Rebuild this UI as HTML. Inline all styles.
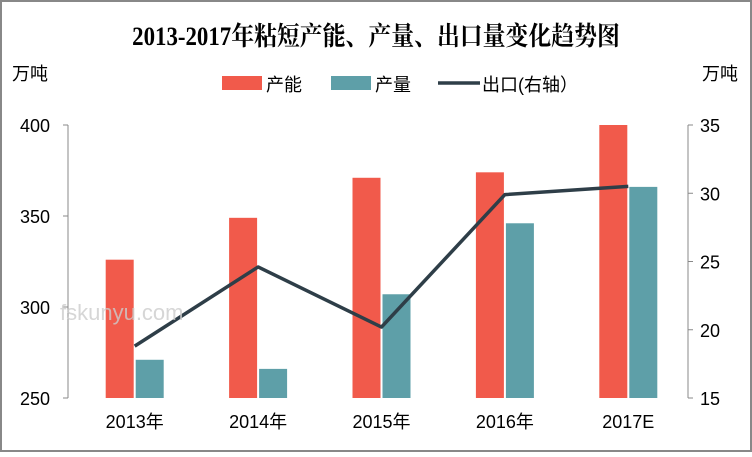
<!DOCTYPE html>
<html><head><meta charset="utf-8"><style>
body{margin:0;background:#fff}
svg text{font-family:"Liberation Sans","Noto Sans CJK SC",sans-serif}
</style></head><body>
<svg id="c" width="752" height="452" xmlns="http://www.w3.org/2000/svg">
<rect x="1" y="1" width="750" height="450" fill="#fff" stroke="#888" stroke-width="2"/>
<text x="376" y="45" text-anchor="middle" font-size="26" font-weight="bold" style="font-family:'Liberation Serif','Noto Serif CJK SC',serif" transform="translate(376,0) scale(0.88,1) translate(-376,0)">2013-2017年粘短产能、产量、出口量变化趋势图</text>
<text x="12" y="80" font-size="18">万吨</text>
<text x="702" y="80" font-size="18">万吨</text>
<g>
<rect x="222" y="76" width="40" height="14" fill="#f15a4b"/>
<text x="266" y="91" font-size="18">产能</text>
<rect x="331" y="76" width="40" height="14" fill="#5e9fa8"/>
<text x="375" y="91" font-size="18">产量</text>
<line x1="438" y1="83" x2="480" y2="83" stroke="#2e3e48" stroke-width="3.5"/>
<text x="482" y="91" font-size="18">出口(右轴）</text>
</g>
<g id="plot"></g>
<text x="60" y="320" font-size="22" fill="#ccc" opacity="0.8">fskunyu.com</text>
</svg>
<script>
const categories=["2013年","2014年","2015年","2016年","2017E"];
const capacity=[326,349,371,374,400];
const output=[271,266,307,346,366];
const exportVals=[18.8,24.6,20.2,29.9,30.5];
const leftTicks=[250,300,350,400];
const rightTicks=[15,20,25,30,35];
const NS="http://www.w3.org/2000/svg";
const g=document.getElementById('plot');
const AX0=68,AX1=688,X0=73,X1=690,YB=398,YT=125;
const yL=v=>YB-(v-250)/150*(YB-YT);
const yR=v=>YB-(v-15)/20*(YB-YT);
const band=(X1-X0)/categories.length;
const xc=i=>X0+band*(i+0.5);
function mk(t,a,txt){const e=document.createElementNS(NS,t);for(const k in a)e.setAttribute(k,a[k]);if(txt!=null)e.textContent=txt;g.appendChild(e);return e;}
let e=mk('line',{x1:AX0,y1:YT,x2:AX0,y2:YB,stroke:'#888'});


e=mk('line',{x1:AX1,y1:YT,x2:AX1,y2:YB,stroke:'#888'});


leftTicks.forEach(v=>{
 const t=mk('line',{x1:AX0-5,y1:yL(v),x2:AX0,y2:yL(v),stroke:'#888'});
 
 
 const l=mk('text',{x:AX0-18,y:yL(v)+7,'font-size':18,'text-anchor':'end'},v);
 
 
});
rightTicks.forEach(v=>{
 const t=mk('line',{x1:AX1,y1:yR(v),x2:AX1+5,y2:yR(v),stroke:'#888'});
 
 
 const l=mk('text',{x:AX1+12,y:yR(v)+7,'font-size':18},v);
 
 
});
const bw=28;
categories.forEach((c,i)=>{
 const cx=xc(i);
 const b1=mk('rect',{x:cx-bw-1,y:yL(capacity[i]),width:bw,height:YB-yL(capacity[i]),fill:'#f15a4b'});
 
 
 const b2=mk('rect',{x:cx+1,y:yL(output[i]),width:bw,height:YB-yL(output[i]),fill:'#5e9fa8'});
 
 
 const l=mk('text',{x:cx,y:YB+30,'font-size':18,'text-anchor':'middle'},c);
 
 
});
const ln=mk('polyline',{points:exportVals.map((v,i)=>xc(i)+','+yR(v)).join(' '),fill:'none',stroke:'#2e3e48','stroke-width':3.5,'stroke-linejoin':'round'});


</script>
</body></html>
